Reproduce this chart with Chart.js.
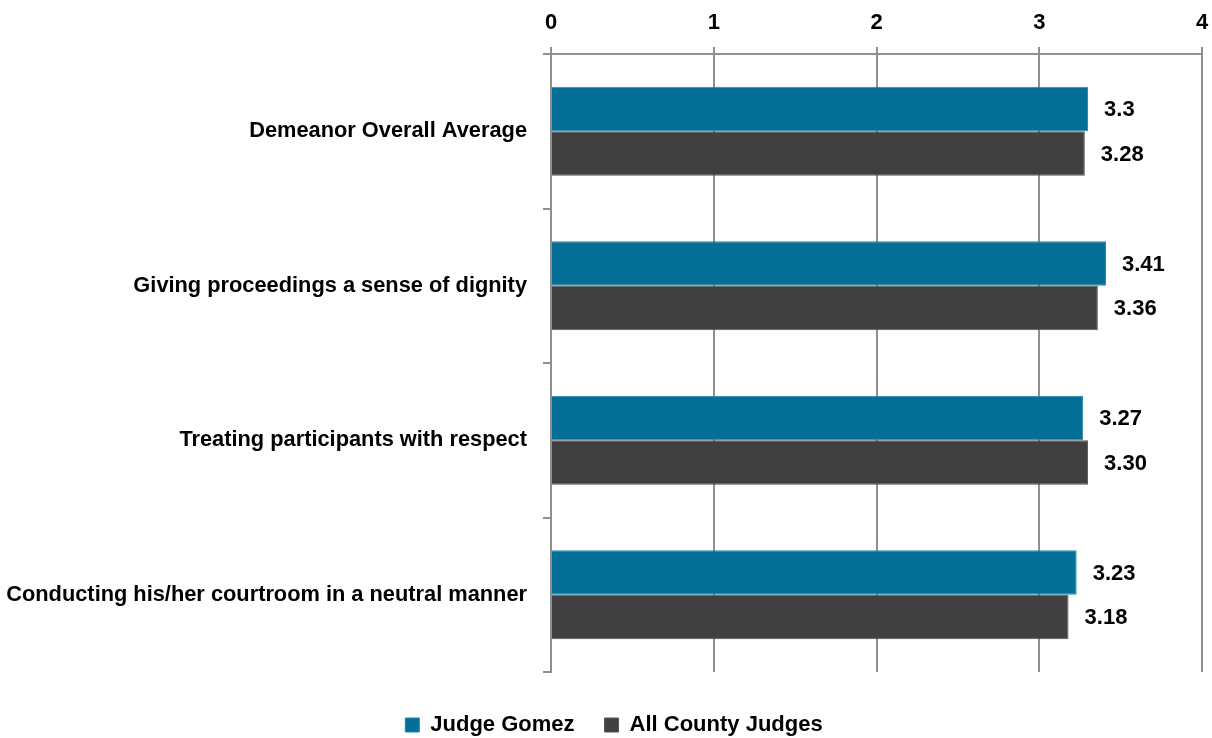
<!DOCTYPE html>
<html>
<head>
<meta charset="utf-8">
<script src="https://cdn.jsdelivr.net/npm/chart.js@4/dist/chart.umd.min.js"></script>
<style>
  html, body { margin: 0; padding: 0; background: #ffffff; }
  #wrap { width: 1212px; height: 738px; }
</style>
</head>
<body>
<div id="wrap"><canvas id="c" width="1212" height="738"></canvas></div>
<script>
const categories = [
  "Demeanor Overall Average",
  "Giving proceedings a sense of dignity",
  "Treating participants with respect",
  "Conducting his/her courtroom in a neutral manner"
];
const judgeGomez = [3.3, 3.41, 3.27, 3.23];
const allCountyJudges = [3.28, 3.36, 3.30, 3.18];
const judgeGomezLabels = ["3.3", "3.41", "3.27", "3.23"];
const allCountyLabels = ["3.28", "3.36", "3.30", "3.18"];
const seriesNames = ["Judge Gomez", "All County Judges"];
const xTicks = [0, 1, 2, 3, 4];

const FONT = "'Liberation Sans Narrow', 'Arial Narrow', 'Liberation Sans', Arial, sans-serif";
const GRID = '#8f8f8f';

const valueLabels = {
  id: 'valueLabels',
  afterDatasetsDraw(chart) {
    const ctx = chart.ctx;
    const labelSets = [judgeGomezLabels, allCountyLabels];
    ctx.save();
    ctx.font = 'bold 22px ' + FONT;
    ctx.fillStyle = '#000000';
    ctx.textAlign = 'left';
    ctx.textBaseline = 'middle';
    chart.data.datasets.forEach((ds, di) => {
      const meta = chart.getDatasetMeta(di);
      meta.data.forEach((bar, i) => {
        ctx.fillText(labelSets[di][i], bar.x + 16, bar.y + 1);
      });
    });
    ctx.restore();
  }
};

const legendPlace = {
  id: 'legendPlace',
  afterInit(chart) {
    const lg = chart.legend;
    if (!lg) return;
    const orig = lg.fit.bind(lg);
    lg.fit = function () {
      orig();
      this.height = 66;
    };
  },
  afterLayout(chart) {
    const lg = chart.legend;
    if (!lg) return;
    lg.top += 12;
    lg.bottom += 12;
    lg.left += 13;
    lg.right += 13;
  }
};

new Chart(document.getElementById('c'), {
  type: 'bar',
  data: {
    labels: categories,
    datasets: [
      {
        label: seriesNames[0],
        data: judgeGomez,
        backgroundColor: '#046f96',
        borderColor: '#2585a8',
        borderWidth: 1,
        categoryPercentage: 0.576,
        barPercentage: 1.0
      },
      {
        label: seriesNames[1],
        data: allCountyJudges,
        backgroundColor: '#404040',
        borderColor: '#555555',
        borderWidth: 1,
        categoryPercentage: 0.576,
        barPercentage: 1.0
      }
    ]
  },
  options: {
    indexAxis: 'y',
    responsive: false,
    animation: false,
    devicePixelRatio: 1,
    layout: { padding: { top: 0, right: 10, bottom: 0, left: 0 } },
    plugins: {
      tooltip: { enabled: false },
      legend: {
        position: 'bottom',
        align: 'center',
        labels: {
          color: '#000000',
          font: { family: FONT, size: 22, weight: 'bold' },
          boxWidth: 14,
          boxHeight: 14,
          padding: 30
        }
      }
    },
    scales: {
      x: {
        position: 'top',
        min: 0,
        max: 4,
        afterBuildTicks(scale) {
          scale.ticks = xTicks.map(v => ({ value: v }));
        },
        afterFit(scale) {
          scale.height = 54;
          scale.paddingRight = 0;
          scale.paddingLeft = 0;
        },
        grid: {
          color: GRID,
          lineWidth: 2,
          tickLength: 7,
          drawTicks: true
        },
        border: { display: true, color: GRID, width: 2 },
        ticks: {
          color: '#000000',
          font: { family: FONT, size: 22, weight: 'bold' },
          padding: 11
        }
      },
      y: {
        afterFit(scale) { scale.width = 551; },
        grid: {
          color: GRID,
          lineWidth: 2,
          drawOnChartArea: false,
          drawTicks: true,
          tickLength: 8,
          offset: true
        },
        border: { display: true, color: GRID, width: 2 },
        ticks: {
          color: '#000000',
          font: { family: FONT, size: 21.8, weight: 'bold' },
          padding: 16
        }
      }
    }
  },
  plugins: [valueLabels, legendPlace]
});
</script>
</body>
</html>
